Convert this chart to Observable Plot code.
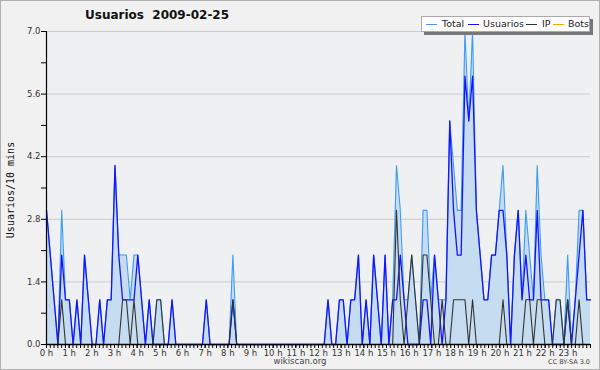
<!DOCTYPE html>
<html>
<head>
<meta charset="utf-8">
<script src="https://cdn.jsdelivr.net/npm/d3@7"></script>
<script src="https://cdn.jsdelivr.net/npm/@observablehq/plot@0.6"></script>
<style>
  html, body { margin: 0; padding: 0; background: #f1f1f1; }
  #wrap { position: relative; width: 600px; height: 370px; background: #f1f1f1; overflow: hidden; font-family: "DejaVu Sans", sans-serif; }
  #wrap svg { position: absolute; left: 0; top: 0; }
  .ov { position: absolute; white-space: nowrap; }
  #border { position: absolute; left: 0; top: 0; width: 600px; height: 370px; box-sizing: border-box; border: 1px solid #b0b0b0; pointer-events: none; }
  #title { left: 85px; top: 8px; font-weight: bold; font-size: 12px; color: #111; }
  #legend { left: 421px; top: 16px; height: 14px; width: 167px; background: #fff; border: 1px solid #aaa; box-shadow: 3px 3px 0 #777; }
  .sw { position: absolute; top: 23.5px; width: 11px; height: 1.3px; }
  .lt { position: absolute; top: 17px; font-size: 9.5px; line-height: 13px; color: #222; }
  #ylab { left: 10px; top: 190px; font-family: "DejaVu Sans Mono", monospace; font-size: 10px; color: #111; transform: translate(-50%, -50%) rotate(-90deg); }
  #site { left: 300px; top: 356px; transform: translateX(-50%); font-size: 8.5px; color: #444; }
  #cc { right: 10px; top: 358px; font-size: 6.5px; color: #444; }
</style>
</head>
<body>
<div id="wrap">
  <div id="border"></div>
  <div class="ov" id="title">Usuarios&nbsp;&nbsp;2009-02-25</div>
  <div class="ov" id="legend"></div>
  <div class="ov sw" style="left:426px;background:#3d9cf5"></div><div class="ov lt" style="left:442px">Total</div>
  <div class="ov sw" style="left:468px;background:#1010ff"></div><div class="ov lt" style="left:483px">Usuarios</div>
  <div class="ov sw" style="left:526px;background:#333"></div><div class="ov lt" style="left:542px">IP</div>
  <div class="ov sw" style="left:553px;background:#ffa500"></div><div class="ov lt" style="left:568px">Bots</div>
  <div class="ov" id="ylab">Usuarios/10 mins</div>
  <div class="ov" id="site">wikiscan.org</div>
  <div class="ov" id="cc">CC BY-SA 3.0</div>
</div>
<script>
// 144 ten-minute slots, 2009-02-25
const total = [
  3,2,1,0,3,1,1,0,1,0, 2,1,0,0,1,0,1,1,4,2,
  2,2,1,2,2,1,0,1,0,1, 1,0,0,1,0,0,0,0,0,0,
  0,0,1,0,0,0,0,0,0,2, 0,0,0,0,0,0,0,0,0,0,
  0,0,0,0,0,0,0,0,0,0, 0,0,0,0,1,0,0,1,1,0,
  1,1,2,0,1,0,2,1,0,2, 0,1,4,3,1,1,2,1,0,3,
  3,1,2,1,1,1,5,4,3,3, 7,5,7,3,2,1,1,2,2,3,
  4,2,0,2,3,1,3,2,1,4, 2,1,1,0,1,1,0,2,0,1,
  3,3,1,1
];
const usuarios = [
  3,2,1,0,2,1,1,0,1,0, 2,1,0,0,1,0,1,1,4,2,
  1,1,1,1,2,1,0,1,0,0, 0,0,0,1,0,0,0,0,0,0,
  0,0,1,0,0,0,0,0,0,1, 0,0,0,0,0,0,0,0,0,0,
  0,0,0,0,0,0,0,0,0,0, 0,0,0,0,1,0,0,1,1,0,
  1,1,2,0,1,0,2,1,0,2, 0,1,1,2,1,0,0,0,0,1,
  1,0,2,1,0,1,5,3,2,2, 6,5,6,3,2,1,1,2,2,3,
  3,2,0,2,3,1,2,1,1,3, 1,1,1,0,0,0,0,1,0,1,
  2,3,1,1
];
const ip = [
  0,0,0,0,1,0,0,0,0,0, 0,0,0,0,0,0,0,0,0,0,
  1,1,0,1,0,0,0,0,0,1, 1,0,0,0,0,0,0,0,0,0,
  0,0,0,0,0,0,0,0,0,1, 0,0,0,0,0,0,0,0,0,0,
  0,0,0,0,0,0,0,0,0,0, 0,0,0,0,0,0,0,0,0,0,
  0,0,0,0,0,0,0,0,0,0, 0,0,3,1,0,1,2,1,0,2,
  2,1,0,0,1,0,0,1,1,1, 1,0,1,0,0,0,0,0,0,0,
  1,0,0,0,0,0,1,1,0,1, 1,0,0,0,1,1,0,1,0,0,
  1,0,0,0
];
const bots = [
  0,0,0,0,0,0,0,0,0,0, 0,0,0,0,0,0,0,0,0,0,
  0,0,0,0,0,0,0,0,0,0, 0,0,0,0,0,0,0,0,0,0,
  0,0,0,0,0,0,0,0,0,0, 0,0,0,0,0,0,0,0,0,0,
  0,0,0,0,0,0,0,0,0,0, 0,0,0,0,0,0,0,0,0,0,
  0,0,0,0,0,0,0,0,0,0, 0,0,0,0,0,0,0,0,0,0,
  0,0,0,0,0,0,0,0,0,0, 0,0,0,0,0,0,0,0,0,0,
  0,0,0,0,0,0,0,0,0,0, 0,0,0,0,0,0,0,0,0,0,
  0,0,0,0
];
const hourLabels = ["0 h","1 h","2 h","3 h","4 h","5 h","6 h","7 h","8 h","9 h","10 h","11 h",
  "12 h","13 h","14 h","15 h","16 h","17 h","18 h","19 h","20 h","21 h","22 h","23 h"];
const yMajor = [0, 1.4, 2.8, 4.2, 5.6, 7.0];
const yMinor = [0.7, 2.1, 3.5, 4.9, 6.3];

const n = total.length;            // slots
const last = n - 1;
const slots = d3.range(n);
// hour h sits at h/24 of the full width; slots span the full width
const hourPos = hourLabels.map((_, h) => h * last / 24);
const minorPos = d3.range(0, 145).map(k => k * last / 144);
const labelAt = new Map(hourPos.map((p, h) => [p, hourLabels[h]]));

const chart = Plot.plot({
  width: 600,
  height: 370,
  marginLeft: 46,
  marginRight: 10,
  marginTop: 31,
  marginBottom: 26,
  style: { background: "transparent", fontFamily: "DejaVu Sans, sans-serif", overflow: "visible" },
  x: { domain: [0, last], axis: null },
  y: { domain: [0, 7], axis: null },
  marks: [
    Plot.frame({ fill: "#eef0f2", stroke: null }),
    Plot.gridY(yMajor.slice(1), { stroke: "#cbcbcb", strokeOpacity: 1, strokeWidth: 1 }),
    Plot.areaY(slots, { x: i => i, y: i => total[i], fill: "#c6dcf0", curve: "linear" }),
    Plot.lineY(slots, { x: i => i, y: i => bots[i], stroke: "#ffa500", strokeWidth: 1 }),
    Plot.lineY(slots, { x: i => i, y: i => total[i], stroke: "#3d9cf5", strokeWidth: 1.1 }),
    Plot.lineY(slots, { x: i => i, y: i => usuarios[i], stroke: "#1414ff", strokeWidth: 1.3 }),
    Plot.lineY(slots, { x: i => i, y: i => ip[i], stroke: "#333", strokeWidth: 1.1 }),
    Plot.ruleX([0], { stroke: "#000", strokeWidth: 1.2 }),
    Plot.ruleY([0], { stroke: "#000", strokeWidth: 1.5 }),
    Plot.axisY({ ticks: yMajor, tickSize: 5, tickPadding: 1, tickFormat: d => d.toFixed(1), fontSize: 8.5, stroke: "#000", fill: "#333", label: null }),
    Plot.axisY({ ticks: yMinor, tickSize: 5, tickFormat: () => "", stroke: "#000", label: null }),
    Plot.axisX({ ticks: minorPos, tickSize: 4, tickFormat: () => "", stroke: "#000", label: null }),
    Plot.axisX({ ticks: hourPos, tickSize: 4, tickPadding: 1, tickFormat: d => labelAt.get(d), fontSize: 8.5, stroke: "#000", fill: "#333", label: null })
  ]
});
document.getElementById("wrap").insertBefore(chart, document.getElementById("border"));
</script>
</body>
</html>
